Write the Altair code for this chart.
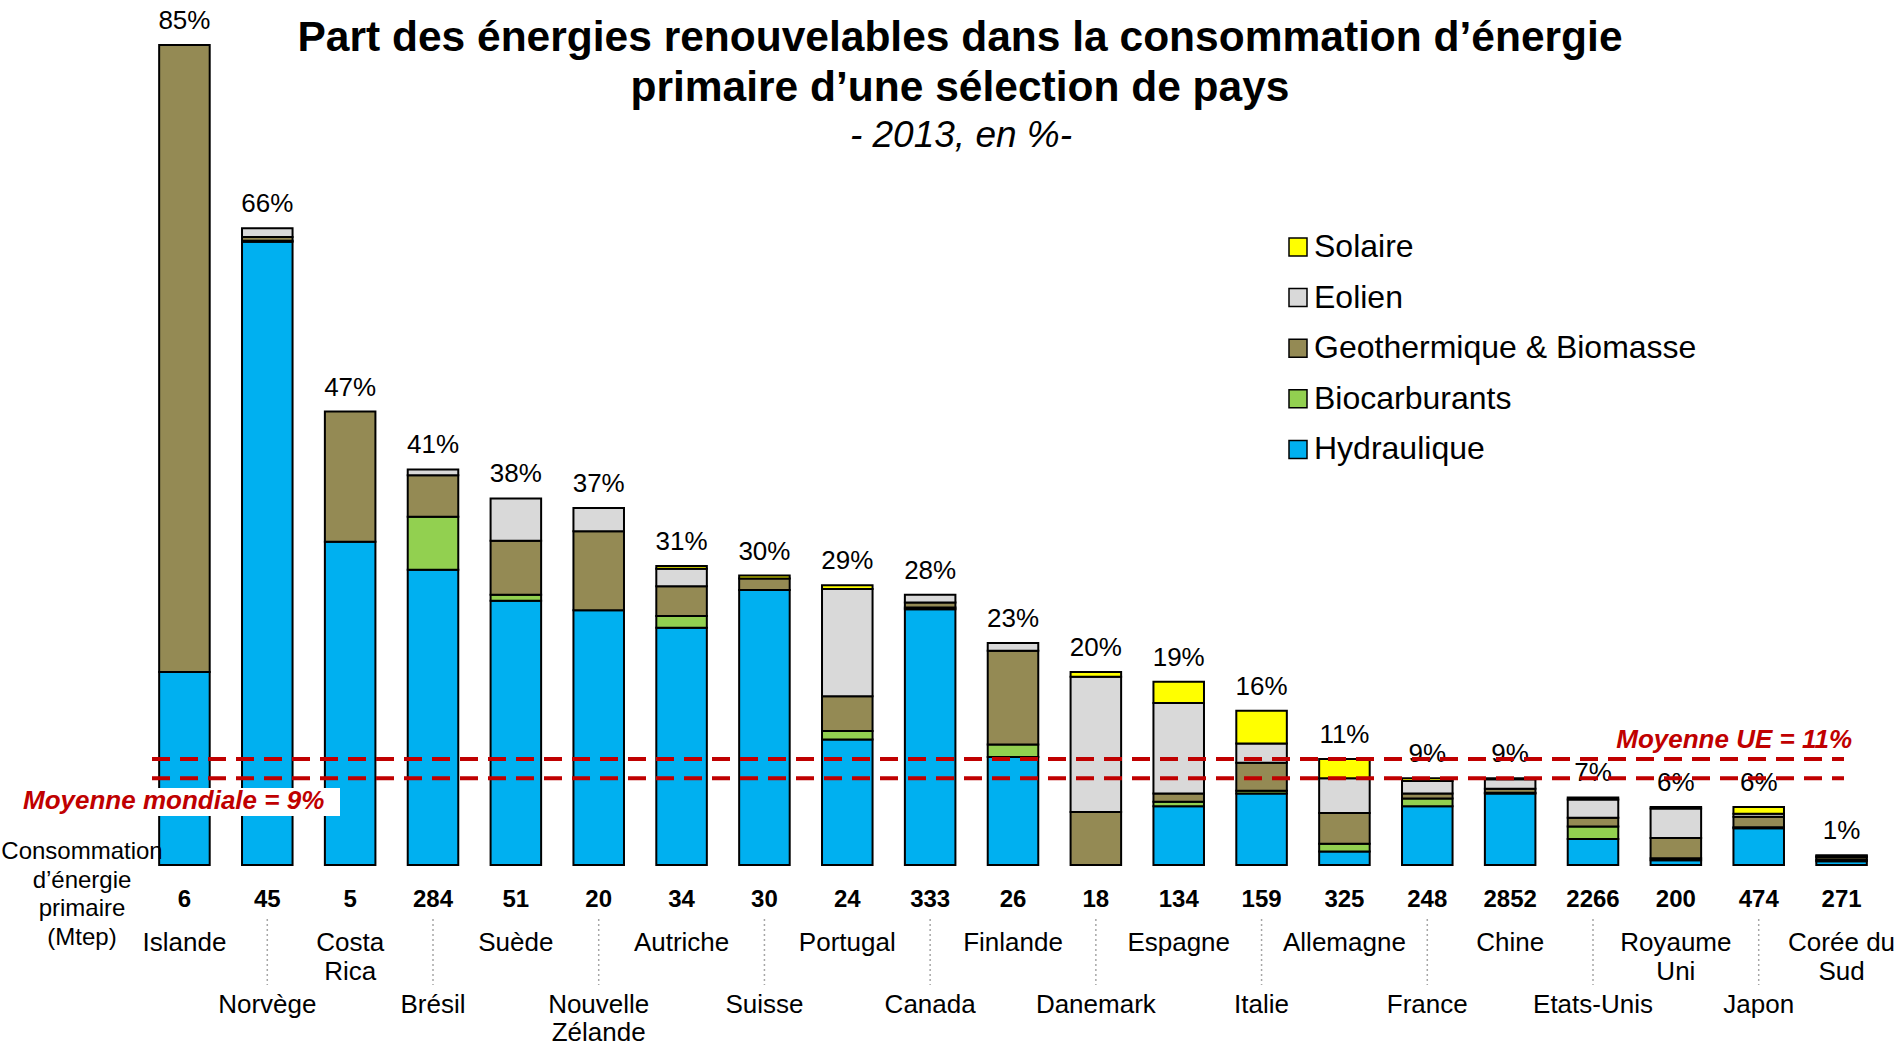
import altair as alt
import pandas as pd

# --- data -------------------------------------------------------------------
countries = ["Islande", "Norvège", "Costa Rica", "Brésil", "Suède", "Nouvelle Zélande",
             "Autriche", "Suisse", "Portugal", "Canada", "Finlande", "Danemark",
             "Espagne", "Italie", "Allemagne", "France", "Chine", "Etats-Unis",
             "Royaume Uni", "Japon", "Corée du Sud"]
country_labels = ["Islande", "Norvège", "Costa\nRica", "Brésil", "Suède", "Nouvelle\nZélande",
                  "Autriche", "Suisse", "Portugal", "Canada", "Finlande", "Danemark",
                  "Espagne", "Italie", "Allemagne", "France", "Chine", "Etats-Unis",
                  "Royaume\nUni", "Japon", "Corée du\nSud"]
conso_mtep = [6, 45, 5, 284, 51, 20, 34, 30, 24, 333, 26, 18, 134, 159, 325, 248,
              2852, 2266, 200, 474, 271]
share_total = [85, 66, 47, 41, 38, 37, 31, 30, 29, 28, 23, 20, 19, 16, 11, 9, 9, 7, 6, 6, 1]

hydraulique = [20.0, 64.6, 33.5, 30.6, 27.4, 26.4, 24.6, 28.5, 13.0, 26.5, 11.2, 0.0,
               6.1, 7.4, 1.4, 6.1, 7.4, 2.7, 0.5, 3.8, 0.4]
biocarburants = [0.0, 0.1, 0.0, 5.5, 0.6, 0.0, 1.2, 0.0, 0.9, 0.2, 1.3, 0.0,
                 0.45, 0.3, 0.8, 0.8, 0.1, 1.3, 0.2, 0.1, 0.15]
geo_biomasse = [65.0, 0.4, 13.5, 4.3, 5.6, 8.2, 3.1, 1.2, 3.6, 0.5, 9.7, 5.5,
                0.85, 2.9, 3.2, 0.5, 0.4, 0.9, 2.1, 1.1, 0.25]
eolien = [0.0, 0.9, 0.0, 0.6, 4.4, 2.4, 1.8, 0.0, 11.1, 0.8, 0.8, 14.0,
          9.4, 2.0, 3.6, 1.3, 1.0, 1.9, 3.05, 0.3, 0.1]
solaire = [0.0, 0.0, 0.0, 0.0, 0.0, 0.0, 0.3, 0.3, 0.4, 0.0, 0.0, 0.5,
           2.2, 3.4, 2.0, 0.3, 0.1, 0.2, 0.15, 0.7, 0.1]

sources = ["Solaire", "Eolien", "Geothermique & Biomasse", "Biocarburants", "Hydraulique"]
source_colors = ["#FFFF00", "#D9D9D9", "#948A54", "#92D050", "#00B0F0"]

moyenne_ue = 11
moyenne_monde = 9

title_lines = ["Part des énergies renouvelables dans la consommation d’énergie",
               "primaire d’une sélection de pays"]
subtitle = "- 2013, en %-"
conso_label = "Consommation\nd’énergie\nprimaire\n(Mtep)"

# --- tables ----------------------------------------------------------------
series = {
    "Hydraulique": hydraulique,
    "Biocarburants": biocarburants,
    "Geothermique & Biomasse": geo_biomasse,
    "Eolien": eolien,
    "Solaire": solaire,
}
stack_rank = {name: i for i, name in enumerate(series)}
rows = []
for name, values in series.items():
    for pays, v in zip(countries, values):
        if v > 0:
            rows.append({"pays": pays, "source": name, "part": v, "rang": stack_rank[name]})
segments = pd.DataFrame(rows)

pays_df = pd.DataFrame({
    "pays": countries,
    "total": share_total,
    "etiquette": [f"{v}%" for v in share_total],
    "mtep": [str(m) for m in conso_mtep],
    "nom": country_labels,
    "rangee": [i % 2 for i in range(len(countries))],
})
moy_df = pd.DataFrame({
    "serie": ["UE", "Monde"],
    "moyenne": [moyenne_ue, moyenne_monde],
    "texte": [f"Moyenne UE = {moyenne_ue}%", f"Moyenne mondiale = {moyenne_monde}%"],
})
one = pd.DataFrame({"k": [0]})

# --- scales ------------------------------------------------------------------
W, H = 1740, 849
y_scale = alt.Scale(domain=[0, 88], nice=False, zero=True)
x_scale = alt.Scale(paddingInner=0.39, paddingOuter=0.195)


def xpos(axis=None):
    return alt.X("pays:N", sort=countries, scale=x_scale, axis=axis)


# --- layers ------------------------------------------------------------------
bars = alt.Chart(segments).mark_bar(stroke="black", strokeWidth=2).encode(
    x=xpos(alt.Axis(title=None, labels=False, ticks=False, grid=False,
                    domainColor="#A6A6A6", domainWidth=2)),
    y=alt.Y("part:Q", stack="zero", scale=y_scale, axis=None),
    color=alt.Color(
        "source:N",
        scale=alt.Scale(domain=sources, range=source_colors),
        legend=alt.Legend(
            title=None, orient="none", legendX=1139, legendY=215,
            symbolType="square", symbolSize=324, symbolStrokeColor="black",
            symbolStrokeWidth=1.5, symbolOpacity=1, labelFontSize=32,
            labelColor="black", labelOffset=0, rowPadding=18.6, padding=0,
            labelLimit=600,
        ),
    ),
    order=alt.Order("rang:Q", sort="ascending"),
)

pct_labels = alt.Chart(pays_df).mark_text(
    baseline="alphabetic", dy=-16, fontSize=26, color="black"
).encode(x=xpos(), y=alt.Y("total:Q", scale=y_scale, axis=None), text="etiquette:N")

avg_rules = alt.Chart(moy_df).mark_rule(
    color="#C00000", strokeWidth=4, strokeDash=[18, 10], strokeCap="butt"
).encode(y=alt.Y("moyenne:Q", scale=y_scale, axis=None), x=alt.value(9), x2=alt.value(1701))

ue_label = alt.Chart(moy_df).transform_filter("datum.serie == 'UE'").mark_text(
    align="right", baseline="alphabetic", dy=-11, fontSize=26, fontWeight="bold",
    fontStyle="italic", color="#C00000"
).encode(y=alt.Y("moyenne:Q", scale=y_scale, axis=None), x=alt.value(1709), text="texte:N")

monde_box = alt.Chart(one).mark_rect(color="white").encode(
    x=alt.value(-125), x2=alt.value(197), y=alt.value(772), y2=alt.value(800)
)
monde_label = alt.Chart(moy_df).transform_filter("datum.serie == 'Monde'").mark_text(
    align="left", baseline="alphabetic", dy=31, fontSize=26, fontWeight="bold",
    fontStyle="italic", color="#C00000"
).encode(y=alt.Y("moyenne:Q", scale=y_scale, axis=None), x=alt.value(-120), text="texte:N")

mtep_labels = alt.Chart(pays_df).mark_text(
    baseline="alphabetic", fontSize=24, fontWeight="bold", color="black"
).encode(x=xpos(), y=alt.value(891), text="mtep:N")

names_row1 = alt.Chart(pays_df).transform_filter("datum.rangee == 0").mark_text(
    baseline="alphabetic", fontSize=26, lineBreak="\n", lineHeight=29, color="black"
).encode(x=xpos(), y=alt.value(935), text="nom:N")

names_row2 = alt.Chart(pays_df).transform_filter("datum.rangee == 1").mark_text(
    baseline="alphabetic", fontSize=26, lineBreak="\n", lineHeight=28, color="black"
).encode(x=xpos(), y=alt.value(997), text="nom:N")

separators = alt.Chart(pays_df).transform_filter("datum.rangee == 1").mark_rule(
    color="#A6A6A6", strokeWidth=1.5, strokeDash=[2, 3]
).encode(x=xpos(), y=alt.value(903), y2=alt.value(969))

conso_text = alt.Chart(pd.DataFrame({"t": [conso_label]})).mark_text(
    align="center", baseline="alphabetic", fontSize=24, lineBreak="\n",
    lineHeight=28.5, color="black"
).encode(x=alt.value(-61), y=alt.value(843), text="t:N")

title1 = alt.Chart(pd.DataFrame({"t": [title_lines[0]]})).mark_text(
    align="center", baseline="alphabetic", fontSize=42.5, fontWeight="bold", color="black"
).encode(x=alt.value(817), y=alt.value(34.5), text="t:N")
title2 = alt.Chart(pd.DataFrame({"t": [title_lines[1]]})).mark_text(
    align="center", baseline="alphabetic", fontSize=42.5, fontWeight="bold", color="black"
).encode(x=alt.value(817), y=alt.value(84.5), text="t:N")
title3 = alt.Chart(pd.DataFrame({"t": [subtitle]})).mark_text(
    align="center", baseline="alphabetic", fontSize=37, fontStyle="italic", color="black"
).encode(x=alt.value(818), y=alt.value(131), text="t:N")

chart = alt.layer(
    bars, pct_labels, avg_rules, ue_label, monde_box, monde_label,
    mtep_labels, separators, names_row1, names_row2, conso_text,
    title1, title2, title3,
).properties(
    width=W, height=H,
    autosize=alt.AutoSizeParams(type="none"),
    padding={"left": 143, "top": 16, "right": 16, "bottom": 182},
).configure(
    font="Liberation Sans",
    background="white",
).configure_view(stroke=None)

chart.save("out.html", embed_options={"renderer": "svg", "actions": False})
